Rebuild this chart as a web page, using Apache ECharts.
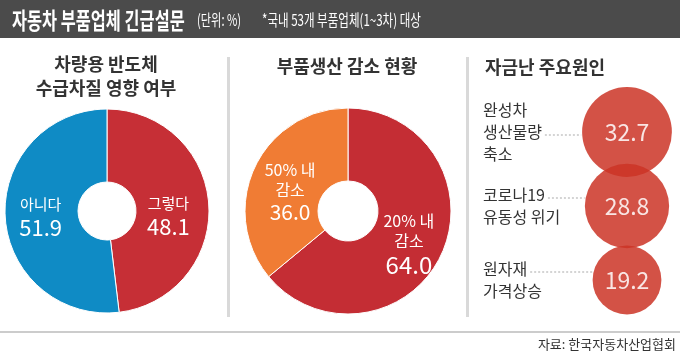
<!DOCTYPE html>
<html>
<head>
<meta charset="utf-8">
<script src="https://cdn.jsdelivr.net/npm/echarts/dist/echarts.min.js"></script>
<style>
html, body { margin: 0; padding: 0; background: #fff; }
#main { width: 680px; height: 353px; }
</style>
</head>
<body>
<div id="main"></div>
<script>
// 차량용 반도체 수급차질 영향 여부
var supplyNames = ['그렇다', '아니다'];
var supplyValues = [48.1, 51.9];
// 부품생산 감소 현황
var cutNames = ['20% 내 감소', '50% 내 감소'];
var cutValues = [64.0, 36.0];
// 자금난 주요원인
var causeNames = ['완성차\n생산물량\n축소', '코로나19\n유동성 위기', '원자재\n가격상승'];
var causeValues = [32.7, 28.8, 19.2];

var FONT = '"Noto Sans CJK KR", "Noto Sans", sans-serif';
var LABEL_LEFT = 483;
var LABEL_SHIFT = 3;
var GRID = { left: 577, width: 100, top: 95, height: 222 };

var chart = echarts.init(document.getElementById('main'));

// 이름을 마지막 공백에서 줄바꿈
function splitName(name) {
    return name.replace(/ (\S+)$/, '\n$1');
}

function pieLabel(name, value, vKey) {
    var lines = name.split('\n').map(function (l) { return '{n|' + l + '}'; });
    return lines.join('\n') + '\n{' + vKey + '|' + value.toFixed(1) + '}';
}

function bubbleSize(v) {
    return 15.7 * Math.sqrt(v);
}

// 헤더 텍스트 (좁은 글꼴 흉내)
function headText(text, x, size, bold, sx) {
    return {
        type: 'text', x: x, y: 20, scaleX: sx,
        style: {
            text: text, fill: '#fff', fontFamily: FONT, fontSize: size,
            fontWeight: bold ? 'bold' : 'normal', verticalAlign: 'middle'
        }
    };
}

function panelTitle(text, x, y, align) {
    return {
        type: 'text', x: x, y: y,
        style: {
            text: text, fill: '#333', fontFamily: FONT, fontSize: 18, fontWeight: 'bold',
            align: align, verticalAlign: 'middle', lineHeight: 24
        }
    };
}

var graphics = [
    { type: 'rect', shape: { x: 0, y: 0, width: 680, height: 38 }, style: { fill: '#4b4b4b' } },
    headText('자동차 부품업체 긴급설문', 12, 23, true, 0.71),
    headText('(단위: %)', 197, 16, false, 0.7),
    headText('*국내 53개 부품업체(1~3차) 대상', 262, 16, false, 0.72),
    panelTitle('차량용 반도체\n수급차질 영향 여부', 106, 76, 'center'),
    panelTitle('부품생산 감소 현황', 347, 66, 'center'),
    panelTitle('자금난 주요원인', 485, 67, 'left'),
    { type: 'rect', shape: { x: 227, y: 57, width: 3, height: 260 }, style: { fill: '#d9d9d9' } },
    { type: 'rect', shape: { x: 466, y: 57, width: 3, height: 260 }, style: { fill: '#d9d9d9' } },
    { type: 'rect', shape: { x: 0, y: 331, width: 680, height: 2 }, style: { fill: '#cccccc' } },
    {
        type: 'text', x: 676, y: 344,
        style: {
            text: '자료: 한국자동차산업협회', fill: '#333', fontFamily: FONT, fontSize: 13,
            align: 'right', verticalAlign: 'middle'
        }
    }
];

// 점선 지시선: 라벨 끝에서 원 가장자리까지
var ctx = document.createElement('canvas').getContext('2d');
ctx.font = '16px ' + FONT;
var band = GRID.height / causeNames.length;
causeNames.forEach(function (name, i) {
    var lines = name.split('\n');
    var li = Math.floor((lines.length - 1) / 2);
    var cx = GRID.left + GRID.width / 2;
    var cy = GRID.top + (i + 0.5) * band;
    var y = cy + LABEL_SHIFT + (li - (lines.length - 1) / 2) * 22;
    var r = bubbleSize(causeValues[i]) / 2;
    var dy = y - cy;
    var x2 = cx - Math.sqrt(Math.max(r * r - dy * dy, 0)) - 1;
    var x1 = LABEL_LEFT + ctx.measureText(lines[li]).width + 3;
    graphics.push({
        type: 'line',
        shape: { x1: x1, y1: y, x2: x2, y2: y },
        style: { stroke: '#aaa', lineWidth: 1, lineDash: [2, 2] }
    });
});

// 라벨 미세 위치 보정
var supplyShift = [[-7, 9], [2, 2]];
var cutShift = [[-2, 4], [5, 11]];

var option = {
    animation: false,
    backgroundColor: '#fff',
    textStyle: { fontFamily: FONT },
    graphic: graphics,
    grid: { left: GRID.left, width: GRID.width, top: GRID.top, height: GRID.height, outerBoundsMode: 'none' },
    xAxis: { type: 'value', min: 0, max: 2, show: false },
    yAxis: {
        type: 'category', data: causeNames, inverse: true,
        axisLine: { show: false }, axisTick: { show: false }, splitLine: { show: false },
        axisLabel: {
            align: 'left', margin: GRID.left - LABEL_LEFT, color: '#333',
            fontFamily: FONT, fontSize: 16, lineHeight: 22,
            padding: [LABEL_SHIFT * 2, 0, 0, 0]
        }
    },
    series: [
        {
            type: 'pie',
            center: [107, 211],
            radius: [29, 102],
            startAngle: 90,
            clockwise: true,
            silent: true,
            itemStyle: { borderColor: '#fff', borderWidth: 1 },
            label: {
                position: 'inside',
                overflow: 'none',
                formatter: function (p) { return pieLabel(p.name, p.value, 'v'); },
                rich: {
                    n: { color: '#fff', fontFamily: FONT, fontSize: 15, lineHeight: 22 },
                    v: { color: '#fff', fontFamily: FONT, fontSize: 22, lineHeight: 26 }
                }
            },
            labelLayout: function (p) {
                return { dx: supplyShift[p.dataIndex][0], dy: supplyShift[p.dataIndex][1] };
            },
            labelLine: { show: false },
            data: supplyNames.map(function (n, i) {
                return { name: n, value: supplyValues[i], itemStyle: { color: ['#c62f36', '#0f8bc5'][i] } };
            })
        },
        {
            type: 'pie',
            center: [348, 211],
            radius: [30, 103],
            startAngle: 90,
            clockwise: true,
            silent: true,
            itemStyle: { borderColor: '#fff', borderWidth: 1 },
            label: {
                position: 'inside',
                overflow: 'none',
                formatter: function (p) {
                    return pieLabel(splitName(p.name), p.value, p.dataIndex === 0 ? 'vb' : 'v');
                },
                rich: {
                    n: { color: '#fff', fontFamily: FONT, fontSize: 16, lineHeight: 20 },
                    v: { color: '#fff', fontFamily: FONT, fontSize: 21, lineHeight: 24 },
                    vb: { color: '#fff', fontFamily: FONT, fontSize: 24, lineHeight: 28 }
                }
            },
            labelLayout: function (p) {
                return { dx: cutShift[p.dataIndex][0], dy: cutShift[p.dataIndex][1] };
            },
            labelLine: { show: false },
            data: cutNames.map(function (n, i) {
                return { name: n, value: cutValues[i], itemStyle: { color: ['#c42d34', '#f07c34'][i] } };
            })
        },
        {
            type: 'scatter',
            silent: true,
            symbolSize: function (d) { return bubbleSize(d[2]); },
            itemStyle: { color: 'rgb(203,52,38)', opacity: 0.85 },
            label: {
                show: true, position: 'inside', color: '#fff', fontFamily: FONT, fontSize: 23,
                formatter: function (p) { return p.value[2].toFixed(1); }
            },
            data: causeValues.map(function (v, i) { return [1, i, v]; })
        }
    ]
};

chart.setOption(option);
</script>
</body>
</html>
